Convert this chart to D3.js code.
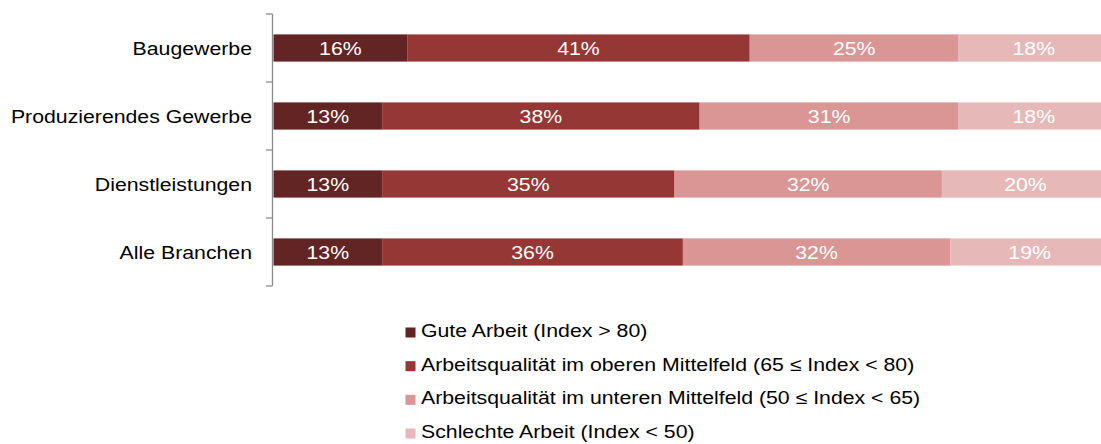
<!DOCTYPE html>
<html lang="de">
<head>
  <meta charset="UTF-8">
  <title>Arbeitsqualität nach Branchen</title>
  <script src="https://d3js.org/d3.v7.min.js"></script>
  <style>
    body {margin: 0; padding: 0; background: #fff; overflow: hidden;}
    svg {display: block; font-family: "Liberation Sans", Arial, sans-serif;}
  </style>
</head>
<body>
  <div id="chart"></div>
  <script>
    const categories = ["Baugewerbe", "Produzierendes Gewerbe", "Dienstleistungen", "Alle Branchen"];
    const seriesNames = [
      "Gute Arbeit (Index > 80)",
      "Arbeitsqualität im oberen Mittelfeld (65 ≤ Index < 80)",
      "Arbeitsqualität im unteren Mittelfeld (50 ≤ Index < 65)",
      "Schlechte Arbeit (Index < 50)"
    ];
    const gute     = [16, 13, 13, 13];
    const oberes   = [41, 38, 35, 36];
    const unteres  = [25, 31, 32, 32];
    const schlecht = [18, 18, 20, 19];
    const colors = ["#632523", "#953735", "#D99694", "#E6B9B8"];

    const width = 1101, height = 444;
    const stretch = 1.15; // text in the picture is a bit wide
    const fontSize = 18.5;

    const svg = d3.select("#chart").append("svg")
      .attr("width", width).attr("height", height);

    const series = [gute, oberes, unteres, schlecht];
    const rows = categories.map((c, i) => {
      const r = {cat: c};
      seriesNames.forEach((s, j) => r[s] = series[j][i]);
      return r;
    });
    const stacked = d3.stack().keys(seriesNames)(rows);

    const x = d3.scaleLinear().domain([0, 100]).range([273.5, 1109]);
    const y = d3.scaleBand().domain(categories).range([14, 286])
      .paddingInner(0.6).paddingOuter(0.3);
    const step = y.step();

    // axis line + ticks at band edges
    const axis = svg.append("g").attr("stroke", "#8c8c8c").attr("stroke-width", 1.3);
    axis.append("line")
      .attr("x1", 272.5).attr("x2", 272.5)
      .attr("y1", y.range()[0]).attr("y2", y.range()[1]);
    d3.range(categories.length + 1).forEach(k => {
      const yy = y.range()[0] + k * step;
      axis.append("line")
        .attr("x1", 266).attr("x2", 272.5)
        .attr("y1", yy).attr("y2", yy);
    });

    // category labels
    svg.append("g").selectAll("text").data(categories).join("text")
      .attr("transform", d => `translate(252,${y(d) + y.bandwidth() / 2}) scale(${stretch},1)`)
      .attr("text-anchor", "end")
      .attr("dy", "0.36em")
      .attr("font-size", fontSize)
      .attr("fill", "#000")
      .text(d => d);

    // bars
    const layer = svg.append("g").selectAll("g").data(stacked).join("g")
      .attr("fill", (d, i) => colors[i]);
    layer.selectAll("rect").data(d => d).join("rect")
      .attr("x", d => x(d[0]))
      .attr("y", d => y(d.data.cat))
      .attr("width", d => x(d[1]) - x(d[0]))
      .attr("height", y.bandwidth());

    // value labels
    const labels = svg.append("g");
    stacked.forEach(s => {
      labels.selectAll(null).data(s).join("text")
        .attr("transform", d => `translate(${(x(d[0]) + x(d[1])) / 2},${y(d.data.cat) + y.bandwidth() / 2}) scale(${stretch},1)`)
        .attr("text-anchor", "middle")
        .attr("dy", "0.36em")
        .attr("font-size", fontSize)
        .attr("fill", "#fff")
        .text(d => (d[1] - d[0]) + "%");
    });

    // legend
    const legend = svg.append("g");
    const legY = d3.scalePoint().domain(seriesNames).range([337, 438]);
    seriesNames.forEach((s, i) => {
      legend.append("rect")
        .attr("x", 405.5).attr("y", legY(s) - 9.5)
        .attr("width", 10).attr("height", 10)
        .attr("fill", colors[i]);
      legend.append("text")
        .attr("transform", `translate(421,${legY(s)}) scale(${stretch},1)`)
        .attr("font-size", fontSize)
        .attr("fill", "#000")
        .text(s);
    });
  </script>
</body>
</html>
